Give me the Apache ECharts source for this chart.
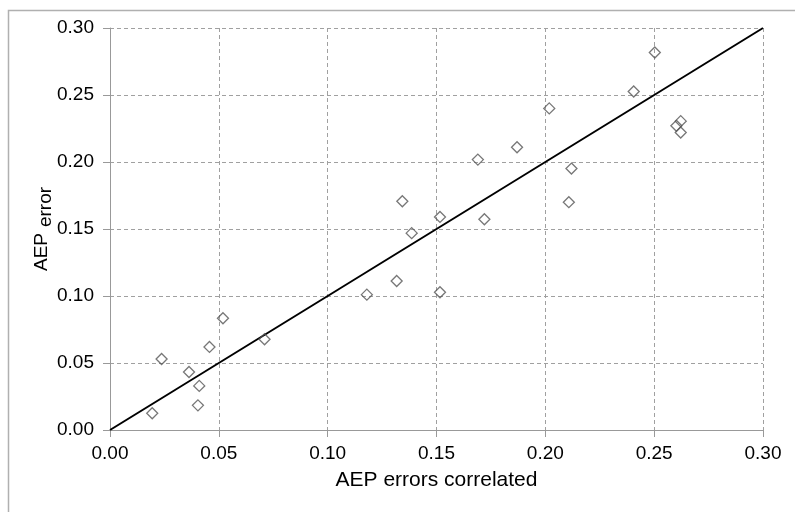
<!DOCTYPE html>
<html>
<head>
<meta charset="utf-8">
<script src="https://cdn.jsdelivr.net/npm/echarts@6/dist/echarts.min.js"></script>
<style>
  html, body { margin: 0; padding: 0; background: #fff; }
  #chart { width: 795px; height: 512px; }
</style>
</head>
<body>
<div id="chart"></div>
<script>
// AEP errors correlated (x) vs AEP error (y)
const xValues = [0.0194, 0.0237, 0.0363, 0.0410, 0.0404, 0.0457, 0.0519, 0.0710, 0.1180, 0.1317,
                 0.1516, 0.1343, 0.1386, 0.1516, 0.1720, 0.1690, 0.1870, 0.2018, 0.2120, 0.2108,
                 0.2406, 0.2503, 0.2602, 0.2622, 0.2622];
const yValues = [0.0125, 0.0530, 0.0433, 0.0329, 0.0184, 0.0620, 0.0834, 0.0677, 0.1010, 0.1112,
                 0.1028, 0.1707, 0.1469, 0.1590, 0.1573, 0.2018, 0.2110, 0.2400, 0.1951, 0.1700,
                 0.2526, 0.2817, 0.2270, 0.2305, 0.2220];
// 1:1 reference line
const lineX = [0, 0.30];
const lineY = [0, 0.30];

const font = 'Liberation Sans, Arial, sans-serif';

const points = xValues.map((x, i) => [x, yValues[i]]);
const linePts = lineX.map((x, i) => [x, lineY[i]]);

const axisCommon = {
    type: 'value',
    min: 0,
    max: 0.30,
    interval: 0.05,
    axisLine: { show: true, lineStyle: { color: '#999', width: 1 } },
    axisTick: { show: true, length: 7, lineStyle: { color: '#999' } },
    splitLine: { show: true, lineStyle: { color: '#a0a0a0', type: [4, 3], width: 1 } },
    axisLabel: {
        color: '#000',
        fontFamily: font,
        fontSize: 19,
        formatter: v => v.toFixed(2)
    }
};

const chart = echarts.init(document.getElementById('chart'));
chart.setOption({
    animation: false,
    backgroundColor: '#fff',
    grid: { left: 110, right: 32, top: 28, bottom: 82 },
    xAxis: Object.assign({}, axisCommon, {
        axisLabel: Object.assign({}, axisCommon.axisLabel, { margin: 14 }),
        name: 'AEP errors correlated',
        nameLocation: 'middle',
        nameGap: 40,
        nameTextStyle: { color: '#000', fontFamily: font, fontSize: 21 }
    }),
    yAxis: Object.assign({}, axisCommon, {
        axisLabel: Object.assign({}, axisCommon.axisLabel, { margin: 16 })
    }),
    graphic: [
        {
            type: 'rect',
            shape: { x: 8.5, y: 10.5, width: 820, height: 540 },
            style: { fill: 'none', stroke: '#b0b0b0', lineWidth: 1.5 },
            silent: true
        },
        // y axis title: "AEP" with subscript "error"
        {
            type: 'text',
            x: 42, y: 252,
            rotation: Math.PI / 2,
            style: { text: 'AEP', fill: '#000', font: '19px ' + font, align: 'center', verticalAlign: 'middle' }
        },
        {
            type: 'text',
            x: 46, y: 207,
            rotation: Math.PI / 2,
            style: { text: 'error', fill: '#000', font: '19px ' + font, align: 'center', verticalAlign: 'middle' }
        }
    ],
    series: [
        {
            type: 'line',
            data: linePts,
            symbol: 'none',
            lineStyle: { color: '#000', width: 2 },
            z: 2
        },
        {
            type: 'scatter',
            data: points,
            symbol: 'diamond',
            symbolSize: 11,
            itemStyle: { color: 'rgba(255,255,255,0)', borderColor: '#555', borderWidth: 1.3 },
            z: 3
        }
    ]
});
</script>
</body>
</html>
